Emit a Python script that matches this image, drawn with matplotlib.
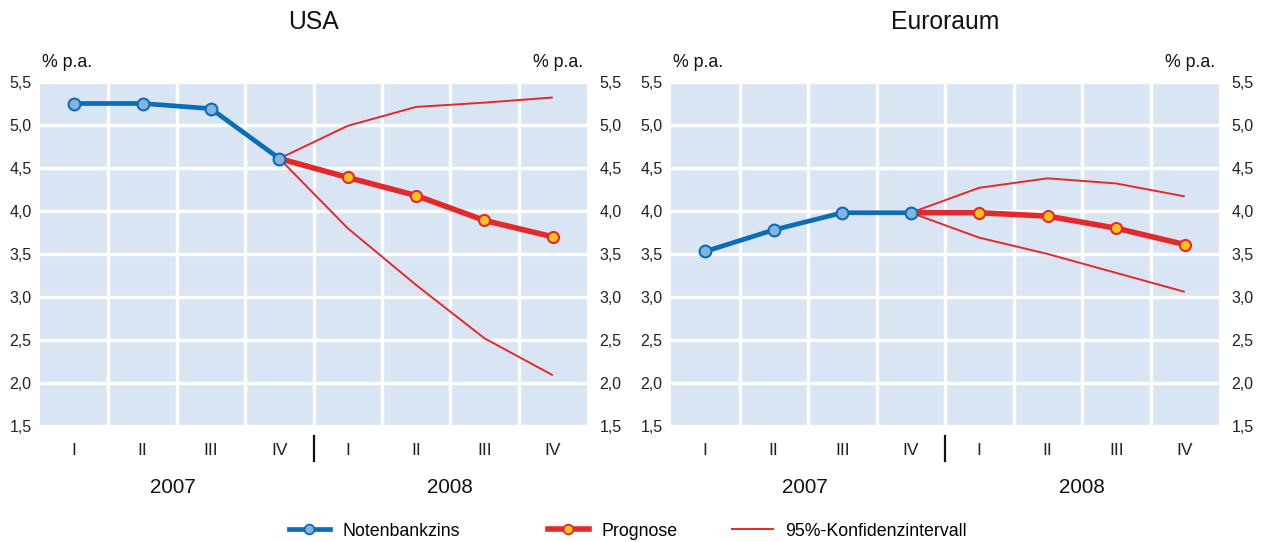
import matplotlib
matplotlib.use("Agg")
import matplotlib.pyplot as plt
from matplotlib.lines import Line2D
import matplotlib.transforms as mtransforms

plt.rcParams['font.family'] = ['Liberation Sans', 'DejaVu Sans']

quarters = ["I", "II", "III", "IV", "I", "II", "III", "IV"]
years = ["2007", "2008"]
yticks = [1.5, 2.0, 2.5, 3.0, 3.5, 4.0, 4.5, 5.0, 5.5]

# USA
usa_rate = [5.25, 5.25, 5.19, 4.61]
usa_forecast = [4.61, 4.39, 4.18, 3.89, 3.70]
usa_upper = [4.61, 4.99, 5.21, 5.26, 5.32]
usa_lower = [4.61, 3.80, 3.14, 2.52, 2.09]

# Euroraum
eu_rate = [3.53, 3.78, 3.98, 3.98]
eu_forecast = [3.98, 3.98, 3.94, 3.80, 3.61]
eu_upper = [3.98, 4.27, 4.38, 4.32, 4.17]
eu_lower = [3.98, 3.69, 3.50, 3.28, 3.06]

BG = "#dae5f4"
BLUE = "#0b6db5"
BLUE_FACE = "#86b3dd"
RED = "#e3292a"
YELLOW = "#fcc21b"

fig = plt.figure(figsize=(12.62, 5.42), dpi=100)

def fmt(v):
    return f"{v:.1f}".replace(".", ",")

def panel(rect, title, rate, forecast, upper, lower):
    ax = fig.add_axes(rect)
    ax.set_facecolor(BG)
    ax.set_xlim(-0.5, 7.5)
    ax.set_ylim(1.5, 5.5)
    for s in ax.spines.values():
        s.set_visible(False)
    # grid
    for x in [0.5, 1.5, 2.5, 3.5, 4.5, 5.5, 6.5]:
        ax.axvline(x, color="white", lw=2.4, zorder=1)
    for y in yticks:
        ax.axhline(y, color="white", lw=2.4, zorder=1)
    xr = list(range(len(rate)))
    xf = list(range(3, 3 + len(forecast)))
    ax.plot(xf, upper, color=RED, lw=1.4, zorder=3, solid_capstyle='butt')
    ax.plot(xf, lower, color=RED, lw=1.4, zorder=3, solid_capstyle='butt')
    ax.plot(xf, forecast, color=RED, lw=4.0, zorder=4)
    ax.plot(xf[1:], forecast[1:], ls='none', marker='o', ms=8, mfc=YELLOW,
            mec=RED, mew=1.5, zorder=5)
    ax.plot(xr, rate, color=BLUE, lw=3.4, marker='o', ms=8.5, mfc=BLUE_FACE,
            mec=BLUE, mew=1.5, zorder=6)

    ax.set_xticks(range(8))
    ax.set_xticklabels(quarters, fontsize=12.5, color="#222222")
    ax.tick_params(axis='x', length=0, pad=12)
    ax.set_yticks(yticks)
    ax.set_yticklabels([fmt(v) for v in yticks], fontsize=11.5, color="#222222")
    ax.tick_params(axis='y', length=0, pad=6)

    ax2 = ax.twinx()
    ax2.set_ylim(1.5, 5.5)
    for s in ax2.spines.values():
        s.set_visible(False)
    ax2.set_yticks(yticks)
    ax2.set_yticklabels([fmt(v) for v in yticks], fontsize=11.5, color="#222222")
    ax2.tick_params(axis='y', length=0, pad=9)

    trans = mtransforms.blended_transform_factory(ax.transData, ax.transAxes)
    ax.text(1.45, -0.178, years[0], transform=trans, ha='center', va='center',
            fontsize=14.8, color="#111111")
    ax.text(5.5, -0.178, years[1], transform=trans, ha='center', va='center',
            fontsize=14.8, color="#111111")
    ax.add_line(Line2D([3.5, 3.5], [-0.029, -0.103], transform=trans,
                       color="#111111", lw=1.6, clip_on=False))
    ax.text(0.003, 1.058, "% p.a.", transform=ax.transAxes, ha='left',
            va='center', fontsize=12.8, color="#111111")
    ax.text(0.993, 1.058, "% p.a.", transform=ax.transAxes, ha='right',
            va='center', fontsize=12.8, color="#111111")
    ax.text(0.5, 1.175, title, transform=ax.transAxes, ha='center',
            va='center', fontsize=17.8, color="#111111")
    return ax

panel([40/1262, 116/542, 547/1262, 344/542], "USA",
      usa_rate, usa_forecast, usa_upper, usa_lower)
panel([671/1262, 116/542, 548/1262, 344/542], "Euroraum",
      eu_rate, eu_forecast, eu_upper, eu_lower)

handles = [
    Line2D([], [], color=BLUE, lw=3.4, marker='o', ms=7, mfc=BLUE_FACE,
           mec=BLUE, mew=1.3),
    Line2D([], [], color=RED, lw=4.0, marker='o', ms=7, mfc=YELLOW,
           mec=RED, mew=1.3),
    Line2D([], [], color=RED, lw=1.4),
]
labels = ["Notenbankzins", "Prognose", "95%-Konfidenzintervall"]
starts = [289, 548, 732]
for h, lab, x0 in zip(handles, labels, starts):
    leg = fig.legend([h], [lab], loc='center left',
                     bbox_to_anchor=(x0 / 1262, 1 - 531 / 542),
                     frameon=False, fontsize=12.8, handlelength=2.3,
                     handletextpad=0.7, borderpad=0, borderaxespad=0)

fig.savefig("out.png", dpi=100, facecolor="white")
